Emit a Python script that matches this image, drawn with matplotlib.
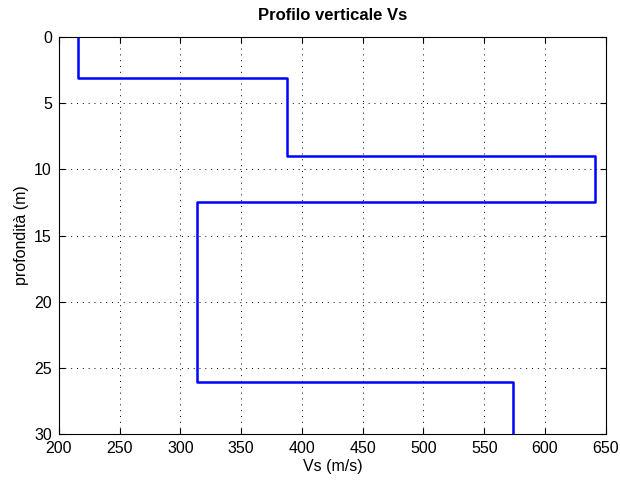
import numpy as np
import matplotlib
matplotlib.use("Agg")
import matplotlib.pyplot as plt

plt.rcParams['font.family'] = ['Liberation Sans', 'DejaVu Sans']

# layer velocities and depth boundaries
vs = [216, 388, 641, 314, 574]
depth_edges = [0, 3.1, 9.0, 12.5, 26.1, 30]
x_ticks = [200, 250, 300, 350, 400, 450, 500, 550, 600, 650]
y_ticks = [0, 5, 10, 15, 20, 25, 30]

# build stair vertices: each layer is a vertical segment at its Vs
xs = np.repeat(vs, 2)
ys = np.column_stack([depth_edges[:-1], depth_edges[1:]]).ravel()

fig = plt.figure(figsize=(6.2, 4.82), dpi=100)
ax = fig.add_axes([0.095, 0.0996, 0.882, 0.8236])
ax.plot(xs, ys, color=(0, 0, 1), linewidth=1.8)

ax.set_xlim(200, 650)
ax.set_ylim(30, 0)
ax.set_xticks(x_ticks)
ax.set_yticks(y_ticks)
ax.tick_params(direction="in", top=True, right=True, length=4, labelsize=11.5)
ax.tick_params(axis="x", pad=5)
ax.tick_params(axis="y", pad=5)
ax.grid(True, linestyle=(0, (1, 5)), color="black", linewidth=0.7)
for sp in ax.spines.values():
    sp.set_linewidth(0.8)

ax.set_title("Profilo verticale Vs", fontsize=12, fontweight="bold", pad=12)
ax.set_xlabel("Vs (m/s)", fontsize=11.5, labelpad=2)
ax.set_ylabel("profondità (m)", fontsize=11.5, labelpad=4)

fig.savefig("out.png", dpi=100)
